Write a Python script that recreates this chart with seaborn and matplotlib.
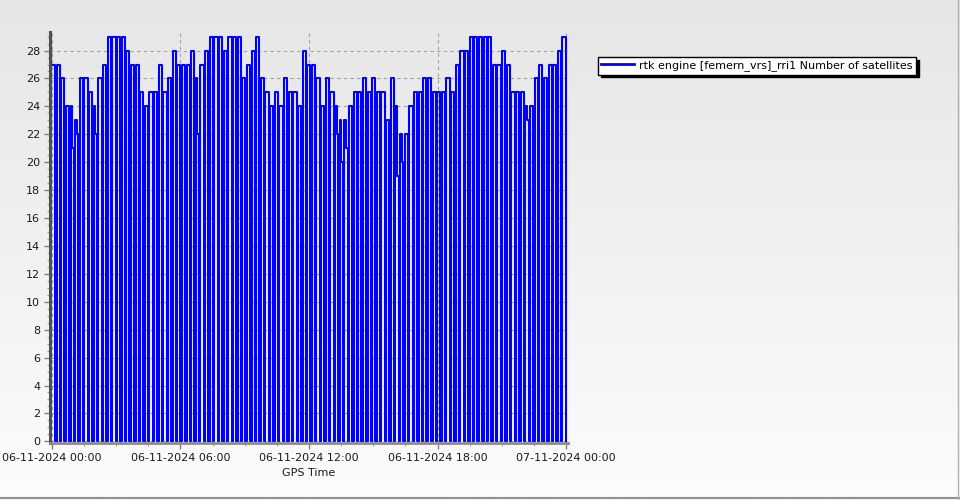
import numpy as np
import pandas as pd
import matplotlib
matplotlib.use("Agg")
import matplotlib.pyplot as plt
import matplotlib.dates as mdates
from matplotlib.ticker import MultipleLocator
from matplotlib.colors import LinearSegmentedColormap
from matplotlib.lines import Line2D
import seaborn as sns

# one epoch every 13 minutes; each epoch ends with a short drop-out to 0
start_time = "2024-11-06 00:00"
epoch_minutes = 13
hold_minutes = 9

sat_counts = [
    27, 27, 26, 24, 24, 23, 26, 26, 25, 24,
    26, 27, 29, 29, 29, 29, 28, 27, 27, 25,
    24, 25, 25, 27, 25, 26, 28, 27, 27, 27,
    28, 26, 27, 28, 29, 29, 29, 28, 29, 29,
    29, 26, 27, 28, 29, 26, 25, 24, 25, 24,
    26, 25, 25, 24, 28, 27, 27, 26, 24, 26,
    25, 24, 23, 23, 24, 25, 25, 26, 25, 26,
    25, 25, 23, 26, 24, 22, 22, 24, 25, 25,
    26, 26, 25, 25, 25, 26, 25, 27, 28, 28,
    29, 29, 29, 29, 29, 27, 27, 28, 27, 25,
    25, 25, 24, 24, 26, 27, 26, 27, 27, 28,
    29,
]

# short dips inside an epoch, just before the drop-out
dip_epochs = [4, 5, 9, 31, 61, 62, 63, 74, 75, 102]
dip_values = [21, 22, 22, 22, 22, 20, 21, 19, 20, 23]

series_label = "rtk engine [femern_vrs]_rri1 Number of satellites"
x_label = "GPS Time"

epochs = pd.date_range(start_time, periods=len(sat_counts), freq=f"{epoch_minutes}min")
before_drop = list(sat_counts)
for i, v in zip(dip_epochs, dip_values):
    before_drop[i] = v

df = pd.concat([
    pd.DataFrame({"time": epochs, "sats": sat_counts}),
    pd.DataFrame({"time": epochs + pd.Timedelta(minutes=hold_minutes / 2), "sats": before_drop}),
    pd.DataFrame({"time": epochs + pd.Timedelta(minutes=hold_minutes), "sats": 0}),
]).sort_values("time").reset_index(drop=True)

fig = plt.figure(figsize=(9.6, 5.0), dpi=100)

# grey-to-white background
bg = fig.add_axes([0, 0, 1, 1], zorder=-10)
grad = np.linspace(0, 1, 256).reshape(-1, 1)
bg.imshow(grad, cmap=LinearSegmentedColormap.from_list("bg", ["#e6e6e6", "#fcfcfc"]),
          aspect="auto", extent=[0, 1, 0, 1])
bg.axis("off")

ax = fig.add_axes([50 / 960, 57 / 500, 518 / 960, 411 / 500])
ax.patch.set_alpha(0)

sns.lineplot(data=df, x="time", y="sats", drawstyle="steps-post", color="#0000ff",
             linewidth=1.5, estimator=None, sort=False, ax=ax, legend=False)

t0 = pd.Timestamp(start_time)
pad = pd.Timedelta(minutes=5.6)
ax.set_xlim(t0 - pad, t0 + pd.Timedelta(days=1) + pad)
ax.set_ylim(-0.12, 29.33)

ax.xaxis.set_major_locator(MultipleLocator(0.25))
ax.xaxis.set_minor_locator(MultipleLocator(1 / 16))
ax.xaxis.set_major_formatter(mdates.DateFormatter("%d-%m-%Y %H:%M"))
ax.yaxis.set_major_locator(MultipleLocator(2))
ax.yaxis.set_minor_locator(MultipleLocator(0.5))

ax.tick_params(which="major", length=4, width=1, color="#808080", labelsize=8,
               labelcolor="#1a1a1a", pad=3)
ax.tick_params(which="minor", length=2, width=0.8, color="#a0a0a0")
ax.grid(which="major", color="#a0a0a0", linestyle=(0, (3, 3)), lw=0.8)
ax.set_axisbelow(True)

for s in ["top", "right"]:
    ax.spines[s].set_visible(False)
ax.spines["left"].set_color("#505050")
ax.spines["left"].set_linewidth(2.2)
ax.spines["bottom"].set_color("#8c8c8c")
ax.spines["bottom"].set_linewidth(2.0)

ax.set_xlabel(x_label, fontsize=8, color="#1a1a1a", labelpad=4)
ax.set_ylabel("")

handle = Line2D([], [], color="#0000ff", lw=2)
ax.legend([handle], [series_label], loc="upper left",
          bbox_to_anchor=(598 / 960, 1 - 57 / 500), bbox_transform=fig.transFigure,
          fontsize=8, frameon=True, fancybox=False, framealpha=1, edgecolor="black",
          shadow={"facecolor": "black", "edgecolor": "black", "alpha": 1},
          borderpad=0.3, handlelength=2.9, handletextpad=0.5, borderaxespad=0)

# window border
fig.add_artist(Line2D([0, 1], [2 / 500, 2 / 500], transform=fig.transFigure,
                      color="#909090", lw=1.5))
fig.add_artist(Line2D([958 / 960, 958 / 960], [0, 1], transform=fig.transFigure,
                      color="#b0b0b0", lw=1))

fig.savefig("out.png", dpi=100)
